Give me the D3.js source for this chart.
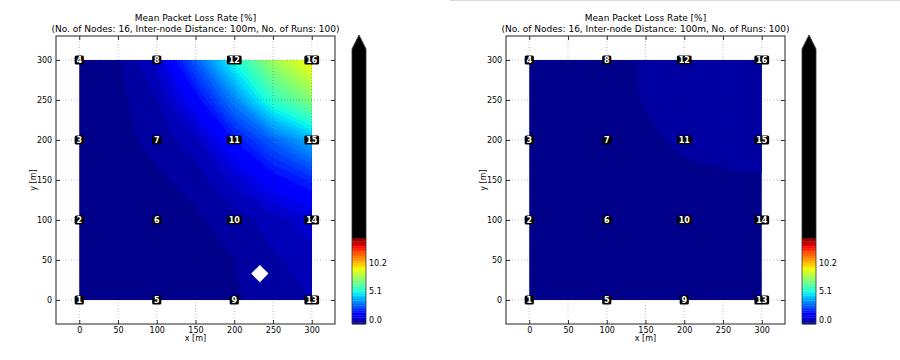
<!DOCTYPE html>
<html><head><meta charset="utf-8">
<script src="https://cdn.jsdelivr.net/npm/d3@7"></script>
<style>body{margin:0;background:#fff}svg{display:block;font-family:"DejaVu Sans",sans-serif}</style>
</head><body><svg id="c" width="900" height="360"></svg>
<script>
// ---------- data ----------
const titleLines = ["Mean Packet Loss Rate [%]", "(No. of Nodes: 16, Inter-node Distance: 100m, No. of Runs: 100)"];
const gridX = [0, 50, 100, 150, 200, 250, 300];
const gridY = [0, 50, 100, 150, 200, 250, 300];
// rows: one per gridY value (y = 0 ... 300), columns per gridX
const lossLeft = [
  [0.10, 0.10, 0.10, 0.15, 0.25, 0.45, 0.60],
  [0.10, 0.10, 0.10, 0.15, 0.30, 0.55, 0.75],
  [0.10, 0.12, 0.15, 0.25, 0.45, 0.75, 1.10],
  [0.10, 0.15, 0.25, 0.40, 1.00, 1.80, 2.50],
  [0.12, 0.20, 0.40, 0.80, 2.10, 3.40, 4.60],
  [0.12, 0.20, 0.60, 1.80, 3.90, 6.20, 7.80],
  [0.15, 0.25, 1.00, 3.30, 5.80, 8.30, 10.00]
];
const lossRight = [
  [0.10, 0.10, 0.10, 0.10, 0.10, 0.12, 0.15],
  [0.10, 0.10, 0.10, 0.10, 0.12, 0.15, 0.18],
  [0.10, 0.10, 0.10, 0.12, 0.15, 0.20, 0.22],
  [0.10, 0.10, 0.12, 0.15, 0.20, 0.25, 0.28],
  [0.10, 0.10, 0.12, 0.22, 0.38, 0.42, 0.40],
  [0.10, 0.10, 0.12, 0.33, 0.42, 0.45, 0.42],
  [0.10, 0.10, 0.12, 0.36, 0.45, 0.45, 0.40]
];
const nodeX = [0, 100, 200, 300];
const nodeY = [0, 100, 200, 300];
const nodeIds = [[1, 2, 3, 4], [5, 6, 7, 8], [9, 10, 11, 12], [13, 14, 15, 16]]; // [xIndex][yIndex]
const axisTicks = [0, 50, 100, 150, 200, 250, 300];
const cbTicks = [0, 5.1, 10.2];
const levelStep = 0.3, levelMax = 15.3;
const sinkLeft = [{x: 233, y: 33}];
const sinkRight = [];
const xLabel = "x [m]", yLabel = "y [m]";

// ---------- jet colormap ----------
const jr = d3.scaleLinear().domain([0, 0.35, 0.66, 0.89, 1]).range([0, 0, 1, 1, 0.5]).clamp(true);
const jg = d3.scaleLinear().domain([0, 0.125, 0.375, 0.64, 0.91, 1]).range([0, 0, 1, 1, 0, 0]).clamp(true);
const jb = d3.scaleLinear().domain([0, 0.11, 0.34, 0.65, 1]).range([0.5, 1, 1, 0, 0]).clamp(true);
const norm = d3.scaleLinear().domain([0, levelMax]).clamp(true);
const jet = v => { const t = norm(v); return d3.rgb(jr(t) * 255, jg(t) * 255, jb(t) * 255).toString(); };

const levels = d3.range(0, levelMax - 1e-9, levelStep);
const svg = d3.select("#c");
svg.append("line").attr("x1", 450).attr("x2", 900).attr("y1", 0.5).attr("y2", 0.5).attr("stroke", "#dadada");

const panels = [{dx: 0, rows: lossLeft, sinks: sinkLeft}, {dx: 450, rows: lossRight, sinks: sinkRight}];

panels.forEach((p, pi) => {
  const g = svg.append("g").attr("transform", `translate(${p.dx},0)`);
  const x = d3.scaleLinear().domain([-30, 330]).range([56, 335]);
  const y = d3.scaleLinear().domain([-30, 330]).range([324, 36]);

  // title
  g.append("text").attr("x", (x.range()[0] + x.range()[1]) / 2).attr("y", 20.5)
    .attr("text-anchor", "middle").attr("font-size", 9).text(titleLines[0]);
  g.append("text").attr("x", (x.range()[0] + x.range()[1]) / 2).attr("y", 32)
    .attr("text-anchor", "middle").attr("font-size", 9).text(titleLines[1]);

  // field
  const cid = "clip" + pi;
  g.append("clipPath").attr("id", cid).append("rect")
    .attr("x", x(gridX[0])).attr("y", y(gridY[gridY.length - 1]))
    .attr("width", x(gridX[gridX.length - 1]) - x(gridX[0]))
    .attr("height", y(gridY[0]) - y(gridY[gridY.length - 1]));
  const n = gridX.length, m = gridY.length;
  const values = p.rows.flat();
  const cont = d3.contours().size([n, m]).thresholds(levels)(values);
  const gx = d3.scaleLinear().domain([0, n - 1]).range([gridX[0], gridX[n - 1]]);
  const gy = d3.scaleLinear().domain([0, m - 1]).range([gridY[0], gridY[m - 1]]);
  const proj = d3.geoTransform({point(px, py) { this.stream.point(x(gx(px - 0.5)), y(gy(py - 0.5))); }});
  const path = d3.geoPath(proj);
  g.append("g").attr("clip-path", `url(#${cid})`).selectAll("path").data(cont).join("path")
    .attr("d", path).attr("fill", d => jet(d.value + levelStep / 2))
    .attr("stroke", d => jet(d.value + levelStep / 2)).attr("stroke-width", 0.3);

  // grid
  const grid = g.append("g").attr("stroke", "rgba(0,0,0,0.3)").attr("stroke-dasharray", "1,2").attr("stroke-width", 0.8);
  grid.selectAll(".gx").data(axisTicks).join("line").attr("x1", d => x(d)).attr("x2", d => x(d))
    .attr("y1", y.range()[0]).attr("y2", y.range()[1]);
  grid.selectAll(".gy").data(axisTicks).join("line").attr("y1", d => y(d)).attr("y2", d => y(d))
    .attr("x1", x.range()[0]).attr("x2", x.range()[1]);

  // axes
  const fmt = d3.format("d");
  const ax = (gen, tr, labels) => {
    const a = g.append("g").attr("transform", tr)
      .call(gen.tickValues(axisTicks).tickSize(-4).tickSizeOuter(0).tickPadding(labels ? 3 : 0)
        .tickFormat(labels ? fmt : ""));
    a.select(".domain").remove();
    a.selectAll("line").attr("stroke", "#000").attr("stroke-width", 0.8);
    a.selectAll("text").attr("font-size", 8).attr("fill", "#000").attr("font-family", "DejaVu Sans");
    return a;
  };
  ax(d3.axisBottom(x), `translate(0,${y.range()[0]})`, true);
  ax(d3.axisTop(x), `translate(0,${y.range()[1]})`, false);
  ax(d3.axisLeft(y), `translate(${x.range()[0]},0)`, true).selectAll("text").attr("dx", "-0.1em");
  ax(d3.axisRight(y), `translate(${x.range()[1]},0)`, false);
  g.append("rect").attr("x", x.range()[0]).attr("y", y.range()[1])
    .attr("width", x.range()[1] - x.range()[0]).attr("height", y.range()[0] - y.range()[1])
    .attr("fill", "none").attr("stroke", "#222").attr("stroke-width", 1);

  g.append("text").attr("x", (x.range()[0] + x.range()[1]) / 2).attr("y", 340.5)
    .attr("text-anchor", "middle").attr("font-size", 8).text(xLabel);
  g.append("text").attr("transform", `translate(36,${(y.range()[0] + y.range()[1]) / 2}) rotate(-90)`)
    .attr("text-anchor", "middle").attr("font-size", 8).text(yLabel);

  // sink marker
  g.selectAll(".sink").data(p.sinks).join("path")
    .attr("transform", d => `translate(${x(d.x)},${y(d.y)}) rotate(45)`)
    .attr("d", d3.symbol(d3.symbolSquare, 150)()).attr("fill", "#fff");

  // nodes
  const nodes = [];
  nodeX.forEach((nx, i) => nodeY.forEach((ny, j) => nodes.push({x: nx, y: ny, id: nodeIds[i][j]})));
  const ng = g.selectAll(".node").data(nodes).join("g").attr("transform", d => `translate(${x(d.x)},${y(d.y)})`);
  ng.each(function(d) {
    const s = d3.select(this);
    const t = s.append("text").attr("text-anchor", "middle").attr("dy", "0.36em")
      .attr("font-size", 8).attr("font-weight", "bold").attr("fill", "#fff").text(d.id);
    const w = t.node().getComputedTextLength();
    s.insert("rect", "text").attr("x", -w / 2 - 1.8).attr("y", -4.6).attr("width", w + 3.6).attr("height", 9.2)
      .attr("rx", 1.5).attr("fill", "#000");
  });

  // colorbar
  const cb = d3.scaleLinear().domain([0, levelMax]).range([324, 238]);
  const cbx = 352, cbw = 14, cbTop = 49, cbTip = 35;
  const cg = g.append("g");
  cg.selectAll("rect").data(levels).join("rect").attr("x", cbx).attr("width", cbw)
    .attr("y", d => cb(d + levelStep)).attr("height", d => cb(d) - cb(d + levelStep) + 0.3)
    .attr("fill", d => jet(d + levelStep / 2));
  cg.append("rect").attr("x", cbx).attr("width", cbw).attr("y", cbTop).attr("height", cb(levelMax) - cbTop).attr("fill", "#000");
  cg.append("path").attr("d", `M${cbx},${cbTop}L${cbx + cbw / 2},${cbTip}L${cbx + cbw},${cbTop}Z`).attr("fill", "#000");
  cg.append("path").attr("d", `M${cbx},${cb(0)}V${cbTop}L${cbx + cbw / 2},${cbTip}L${cbx + cbw},${cbTop}V${cb(0)}Z`)
    .attr("fill", "none").attr("stroke", "#333").attr("stroke-width", 0.8);
  cg.selectAll(".cbt").data(cbTicks).join("text").attr("x", cbx + cbw + 3).attr("y", d => cb(d) - 4)
    .attr("dy", "0.36em").attr("font-size", 8).text(d3.format(".1f"));
});
</script></body></html>
